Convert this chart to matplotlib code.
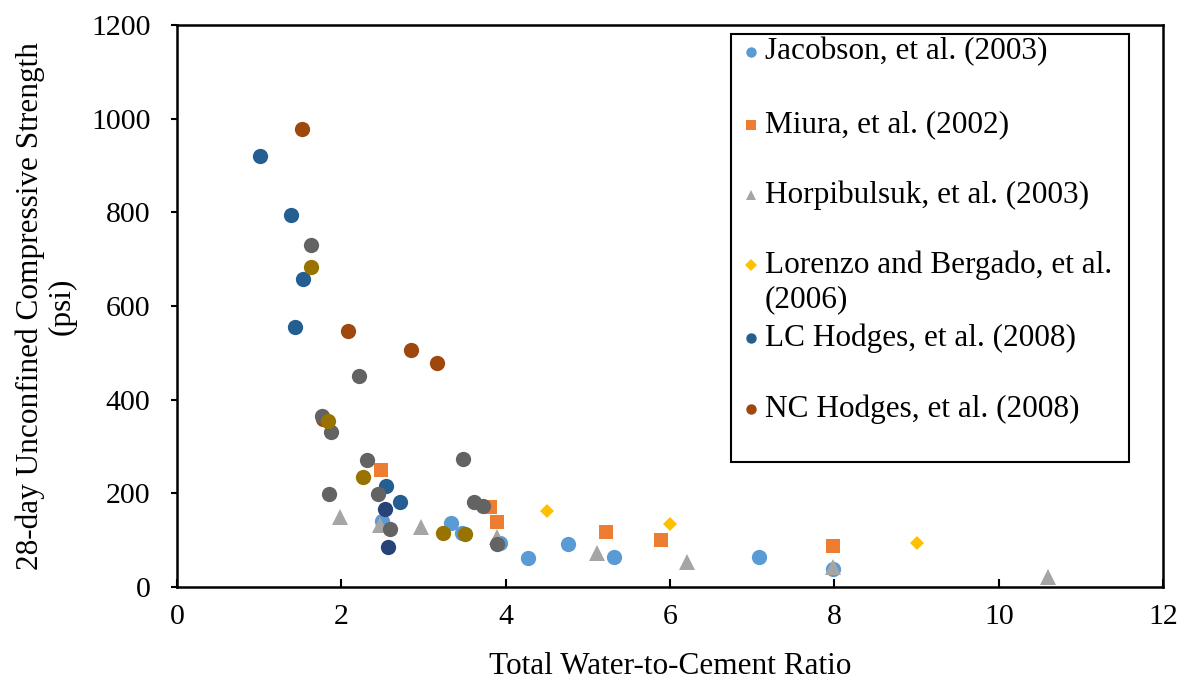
import matplotlib
matplotlib.use("Agg")
import matplotlib.pyplot as plt
from matplotlib.patches import Rectangle

plt.rcParams['font.family'] = ['Liberation Serif', 'DejaVu Serif']

# data
jac_x = [2.5, 3.33, 3.47, 3.93, 4.27, 4.76, 5.32, 7.08, 7.98]
jac_y = [140, 137, 115, 94, 62, 92, 64, 64, 38]

miura_x = [2.48, 3.81, 3.9, 5.22, 5.89, 7.98]
miura_y = [250, 171, 139, 117, 100, 88]

horp_x = [1.98, 2.47, 2.97, 3.89, 5.11, 6.2, 7.98, 10.6]
horp_y = [149, 132, 128, 107, 73, 53, 43, 21]

lor_x = [4.5, 6.0, 9.0]
lor_y = [162, 135, 94]

lc_x = [1.01, 1.39, 1.53, 1.44, 2.55, 2.71]
lc_y = [920, 794, 658, 555, 216, 182]

nc_x = [1.52, 2.08, 2.85, 3.16, 1.78]
nc_y = [978, 547, 506, 478, 358]

gray_x = [1.63, 2.21, 1.76, 1.87, 2.31, 1.85, 2.45, 2.59, 3.48, 3.61, 3.73, 3.89]
gray_y = [730, 450, 365, 331, 271, 199, 199, 124, 273, 181, 173, 92]

olive_x = [1.63, 1.84, 2.26, 3.24, 3.5]
olive_y = [683, 354, 235, 115, 113]

navy_x = [2.53, 2.57]
navy_y = [167, 86]

labels = ['Jacobson, et al. (2003)', 'Miura, et al. (2002)', 'Horpibulsuk, et al. (2003)',
          'Lorenzo and Bergado, et al.\n(2006)', 'LC Hodges, et al. (2008)', 'NC Hodges, et al. (2008)']

series = [
    (jac_x, jac_y, 'o', '#5B9BD5'),
    (miura_x, miura_y, 's', '#ED7D31'),
    (horp_x, horp_y, '^', '#A5A5A5'),
    (lor_x, lor_y, 'D', '#FFC000'),
    (lc_x, lc_y, 'o', '#255E91'),
    (nc_x, nc_y, 'o', '#9E480E'),
    (gray_x, gray_y, 'o', '#636363'),
    (olive_x, olive_y, 'o', '#997300'),
    (navy_x, navy_y, 'o', '#264478'),
]
sizes = {'o': 11, 's': 10.5, '^': 11, 'D': 7.5}

fig = plt.figure(figsize=(11.87, 6.83), dpi=100)
ax = fig.add_axes([0.149, 0.1406, 0.831, 0.8228])

for xs, ys, m, c in series:
    ax.plot(xs, ys, linestyle='none', marker=m, color=c, markersize=sizes[m],
            markeredgewidth=0)

ax.set_xlim(0, 12)
ax.set_ylim(0, 1200)
ax.set_xticks(range(0, 13, 2))
ax.set_yticks(range(0, 1201, 200))
ax.tick_params(labelsize=21.5, width=1.5, top=False, right=False)
ax.tick_params(axis='x', direction='in', length=6, pad=12)
ax.tick_params(axis='y', direction='out', length=4, pad=15)
for s in ax.spines.values():
    s.set_linewidth(1.8)

ax.set_xlabel('Total Water-to-Cement Ratio', fontsize=22.5, labelpad=16)
ax.set_ylabel('28-day Unconfined Compressive Strength\n(psi)', fontsize=22.5, labelpad=10,
              linespacing=1.15)

# legend box drawn by hand to follow the original spacing
W, H = 1187, 683
fig.add_artist(Rectangle((731 / W, 1 - 462 / H), (1129 - 731) / W, (462 - 34) / H,
                         transform=fig.transFigure, fill=False, edgecolor='black', linewidth=1.5))
row_y = [52, 125, 195, 265, 338, 409]
for (xs, ys, m, c), lab, py in zip(series[:6], labels, row_y):
    ms = {'o': 7.5, 's': 7.5, '^': 7.5, 'D': 6}[m]
    fig.add_artist(plt.Line2D([751 / W], [1 - py / H], marker=m, color=c, markersize=ms,
                              markeredgewidth=0, linestyle='none', transform=fig.transFigure))
    first, *rest = lab.split('\n')
    fig.text(765 / W, 1 - py / H, first, fontsize=22.5, va='center', ha='left')
    if rest:
        fig.text(765 / W, 1 - (py + 35) / H, rest[0], fontsize=22.5, va='center', ha='left')

fig.savefig('out.png', dpi=100)
